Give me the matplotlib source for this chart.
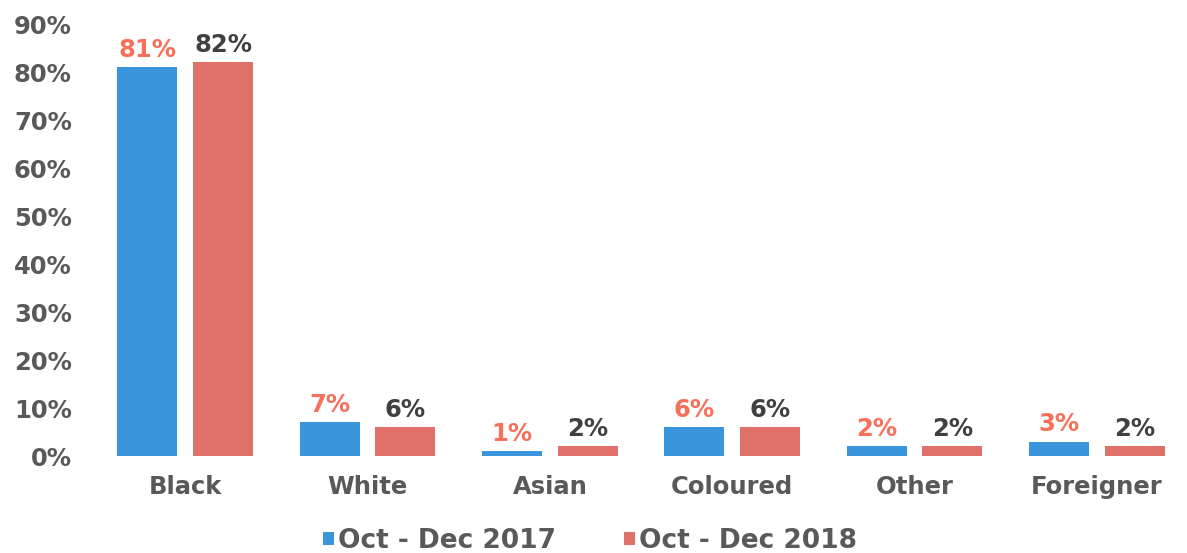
import matplotlib
matplotlib.use("Agg")
import matplotlib.pyplot as plt
import numpy as np

categories = ["Black", "White", "Asian", "Coloured", "Other", "Foreigner"]
series_names = ["Oct - Dec 2017", "Oct - Dec 2018"]
values_2017 = [81, 7, 1, 6, 2, 3]
values_2018 = [82, 6, 2, 6, 2, 2]
yticks = [0, 10, 20, 30, 40, 50, 60, 70, 80, 90]

blue = "#3A95DC"
red = "#E0706A"
label_2017_color = "#F7705A"
label_2018_color = "#404040"
text_gray = "#595959"

plt.rcParams["font.family"] = ["DejaVu Sans"]
fig = plt.figure(figsize=(11.87, 5.53), dpi=100)
ax = fig.add_axes([94/1187, 1 - 456/553, (1188-94)/1187, (456-24)/553])

x = np.arange(len(categories))
w = 0.33
gap = 0.085
b1 = ax.bar(x - (w + gap)/2, values_2017, w, color=blue, label=series_names[0])
b2 = ax.bar(x + (w + gap)/2, values_2018, w, color=red, label=series_names[1])

for rect, v in zip(b1, values_2017):
    ax.annotate(f"{v}%", (rect.get_x() + rect.get_width()/2, rect.get_height()),
                xytext=(0, 4), textcoords="offset points", ha="center", va="bottom",
                fontsize=17.5, fontweight="bold", color=label_2017_color)
for rect, v in zip(b2, values_2018):
    ax.annotate(f"{v}%", (rect.get_x() + rect.get_width()/2, rect.get_height()),
                xytext=(0, 4), textcoords="offset points", ha="center", va="bottom",
                fontsize=17.5, fontweight="bold", color=label_2018_color)

ax.set_ylim(0, 90)
ax.set_xlim(-0.5, len(categories) - 0.5)
ax.set_yticks(yticks)
ax.set_yticklabels([f"{t}%" for t in yticks], fontsize=17.5, fontweight="bold", color=text_gray)
ax.set_xticks(x)
ax.set_xticklabels(categories, fontsize=17.5, fontweight="bold", color=text_gray)
ax.tick_params(axis="both", length=0)
ax.tick_params(axis="y", pad=16)
ax.tick_params(axis="x", pad=14)
for s in ax.spines.values():
    s.set_visible(False)

leg = fig.legend(handles=[b1, b2], labels=series_names, loc="center",
                 bbox_to_anchor=(590/1187, 1 - 541/553), ncol=2, frameon=False,
                 prop={"size": 19, "weight": "bold"}, handlelength=0.4, handleheight=0.4,
                 handletextpad=0.15, columnspacing=2.6)
for t in leg.get_texts():
    t.set_color(text_gray)

fig.savefig("out.png", dpi=100)
